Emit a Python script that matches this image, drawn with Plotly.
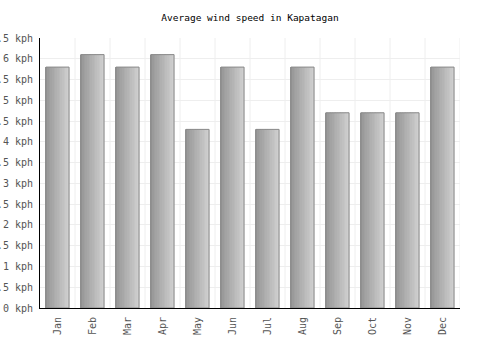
import plotly.graph_objects as go

months = ["Jan", "Feb", "Mar", "Apr", "May", "Jun", "Jul", "Aug", "Sep", "Oct", "Nov", "Dec"]
wind_kph = [5.8, 6.1, 5.8, 6.1, 4.3, 5.8, 4.3, 5.8, 4.7, 4.7, 4.7, 5.8]
y_ticks = [i * 0.5 for i in range(14)]
y_tick_labels = [("%g" % v) + " kph" for v in y_ticks]

fig = go.Figure()

bar_w = 0.66
n_slices = 14
c0, c1 = 150, 206
for i in range(n_slices):
    t = i / (n_slices - 1)
    c = int(round(c0 + (c1 - c0) * t))
    fig.add_trace(go.Bar(
        x=months, y=wind_kph,
        width=bar_w / n_slices + 0.004,
        offset=-bar_w / 2 + i * bar_w / n_slices,
        marker=dict(color=f"rgb({c},{c},{c})", line=dict(width=0)),
        hoverinfo="skip", showlegend=False,
    ))

fig.add_trace(go.Bar(
    x=months, y=wind_kph, width=bar_w, offset=-bar_w / 2,
    marker=dict(color="rgba(0,0,0,0)", line=dict(color="#888888", width=1)),
    hoverinfo="skip", showlegend=False,
))

# vertical grid lines at category boundaries
for k in range(1, 13):
    fig.add_shape(type="line", xref="x", yref="paper", x0=k - 0.5, x1=k - 0.5, y0=0, y1=1,
                  line=dict(color="#eeeeee", width=1), layer="below")

fig.update_layout(
    width=500, height=350,
    margin=dict(l=40, r=40, t=38, b=42),
    barmode="overlay",
    plot_bgcolor="white", paper_bgcolor="white",
    title=dict(text="Average wind speed in Kapatagan", x=0.5, xanchor="center", y=0.95, yanchor="middle",
               font=dict(family="DejaVu Sans Mono", size=9.5, color="#000000")),
    font=dict(family="DejaVu Sans Mono", size=10, color="#555555"),
)
fig.update_xaxes(
    range=[-0.5, 11.5], tickangle=-90, showgrid=False, automargin=False,
    showline=True, linecolor="#000000", linewidth=1, ticks="", ticklabelstandoff=4,
    tickfont=dict(family="DejaVu Sans Mono", size=10, color="#555555"),
)
fig.update_yaxes(
    range=[0, 6.5], tickvals=y_ticks, ticktext=y_tick_labels, automargin=False,
    showgrid=True, gridcolor="#eeeeee", gridwidth=1, zeroline=False,
    showline=True, linecolor="#000000", linewidth=1, ticks="", ticklabelstandoff=4,
    tickfont=dict(family="DejaVu Sans Mono", size=10, color="#555555"),
)

fig.write_html("out.html")
